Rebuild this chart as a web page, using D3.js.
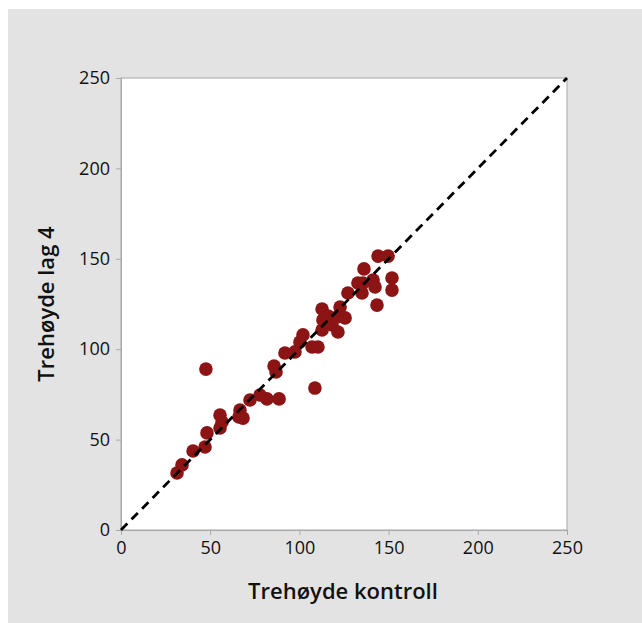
<!DOCTYPE html>
<html>
<head>
<meta charset="utf-8">
<script src="https://cdn.jsdelivr.net/npm/d3@7"></script>
<style>
html,body{margin:0;padding:0;background:#fff;}
svg{display:block;}
text{font-family:"Open Sans","Noto Sans",sans-serif;fill:#111;}
</style>
</head>
<body>
<svg id="chart" width="642" height="623"></svg>
<script>
const xTitle = "Trehøyde kontroll";
const yTitle = "Trehøyde lag 4";
const tickValues = [0, 50, 100, 150, 200, 250];
const kontroll = [31.4,34.2,40.4,47.1,48.2,47.6,55.5,56.6,55.5,66.1,68.4,66.7,72.3,77.9,81.8,88.6,85.8,86.9,91.9,97.5,100.3,102.0,107.1,110.4,108.7,112.7,113.2,112.7,118.3,121.6,121.1,125.6,122.8,116.0,127.2,135.1,132.8,135.6,136.2,141.3,142.4,143.5,144.1,149.7,151.9,151.9];
const lag4 =     [31.5,36.0,43.7,45.9,53.7,89.0,63.6,59.7,56.4,62.5,61.9,66.4,71.9,74.7,72.5,72.5,90.7,87.4,97.9,98.5,104.0,107.9,101.2,101.2,78.5,110.6,116.2,122.2,113.4,109.5,117.8,117.3,123.3,118.4,131.1,131.1,136.6,136.6,144.4,138.3,134.4,124.4,151.5,151.5,139.4,132.7];

const svg = d3.select("#chart");
svg.append("rect").attr("x",8).attr("y",9).attr("width",634).attr("height",614).attr("fill","#e3e3e3");

const L=121, R=567, T=78, B=530;
const x = d3.scaleLinear().domain([0,250]).range([L,R]);
const y = d3.scaleLinear().domain([0,250]).range([B,T]);

svg.append("rect").attr("x",L).attr("y",T).attr("width",R-L).attr("height",B-T)
  .attr("fill","#fff").attr("stroke","#a8a8a8").attr("stroke-width",1);

const xAxis = svg.append("g").attr("transform",`translate(0,${B})`)
  .call(d3.axisBottom(x).tickValues(tickValues).tickSize(5).tickPadding(6));
const yAxis = svg.append("g").attr("transform",`translate(${L},0)`)
  .call(d3.axisLeft(y).tickValues(tickValues).tickSize(5).tickPadding(6));
[xAxis,yAxis].forEach(g=>{
  g.select(".domain").attr("stroke","#a8a8a8");
  g.selectAll(".tick line").attr("stroke","#a8a8a8");
  g.selectAll(".tick text").attr("font-size",18).attr("font-weight",500).attr("fill","#111")
    .attr("font-family",'"Open Sans","Noto Sans",sans-serif');
});

svg.append("g").selectAll("circle").data(kontroll.map((v,i)=>[v,lag4[i]])).join("circle")
  .attr("cx",d=>x(d[0])).attr("cy",d=>y(d[1])).attr("r",6.8).attr("fill","#8c1414");

svg.append("line").attr("x1",x(0)).attr("y1",y(0)).attr("x2",x(250)).attr("y2",y(250))
  .attr("stroke","#000").attr("stroke-width",2.8).attr("stroke-dasharray","9,6");

svg.append("text").attr("x",(L+R)/2-1).attr("y",599).attr("text-anchor","middle")
  .attr("font-size",22).attr("font-weight",600).text(xTitle);
svg.append("text").attr("transform",`translate(54,${(T+B)/2}) rotate(-90)`).attr("text-anchor","middle")
  .attr("font-size",22).attr("font-weight",600).text(yTitle);
</script>
</body>
</html>
